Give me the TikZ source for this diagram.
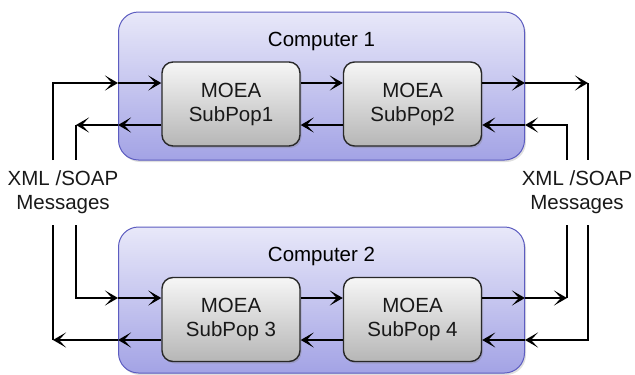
\documentclass[tikz,border=0pt]{standalone}
\usepackage{fontspec}
\setmainfont{Liberation Sans}
\usetikzlibrary{arrows.meta,shadows}

\definecolor{hostTop}{RGB}{232,232,249}
\definecolor{hostBot}{RGB}{163,163,229}
\definecolor{hostLine}{RGB}{92,92,192}
\definecolor{popTop}{RGB}{246,246,246}
\definecolor{popBot}{RGB}{182,182,182}
\definecolor{popLine}{RGB}{40,40,40}

\begin{document}
\begin{tikzpicture}[x=1pt,y=1pt,
  font=\fontsize{20.5}{24}\selectfont,
  host/.style={draw=hostLine, line width=1pt, rounded corners=20pt,
    top color=hostTop, bottom color=hostBot, minimum width=406pt,
    drop shadow={opacity=0.25, shadow xshift=1.5pt, shadow yshift=-2pt}},
  subpop/.style={draw=popLine, line width=1.4pt, rounded corners=11pt,
    top color=popTop, bottom color=popBot, minimum width=138pt,
    minimum height=84pt, align=center, text=black!90,
    drop shadow={opacity=0.3, shadow xshift=1.5pt, shadow yshift=-2pt}},
  msg/.style={align=center, text=black!90},
  link/.style={line width=2.5pt, -{Stealth[length=13pt,width=15pt,inset=7pt]}},
  wire/.style={line width=2.5pt}]
\useasboundingbox (0,0) rectangle (635,-375);

% the two hosts
\node[host, minimum height=148pt] (comp1) at (321.5,-86) {};
\node[anchor=north] (comp1lbl) at ([yshift=-17pt]comp1.north) {Computer 1};
\node[host, minimum height=146pt] (comp2) at (321.5,-300) {};
\node[anchor=north] (comp2lbl) at ([yshift=-17pt]comp2.north) {Computer 2};

% sub-populations
\node[subpop] (sub1) at (231,-104) {MOEA\\SubPop1};
\node[subpop] (sub2) at (412.5,-104) {MOEA\\SubPop2};
\node[subpop] (sub3) at (231,-319.5) {MOEA\\SubPop 3};
\node[subpop] (sub4) at (412.5,-319.5) {MOEA\\SubPop 4};

% message labels
\node[msg] (msgL) at (63,-192) {XML /SOAP\\Messages};
\node[msg] (msgR) at (577,-192) {XML /SOAP\\Messages};

% arrow levels and free ends of the wires
\coordinate (lvA) at (0,-83);
\coordinate (lvB) at (0,-125);
\coordinate (lvC) at (0,-298);
\coordinate (lvD) at (0,-340);
\coordinate (wL1) at (53,-160);
\coordinate (wL2) at (76,-160);
\coordinate (wL3) at (76,-225);
\coordinate (wL4) at (53,-225);
\coordinate (wR1) at (588,-160);
\coordinate (wR2) at (567,-160);
\coordinate (wR3) at (567,-225);
\coordinate (wR4) at (588,-225);

% computer 1, left to right
\draw[link] (wL1) |- (comp1.west |- lvA);
\draw[link] (comp1.west |- lvA) -- (sub1.west |- lvA);
\draw[link] (sub1.east |- lvA) -- (sub2.west |- lvA);
\draw[link] (sub2.east |- lvA) -- (comp1.east |- lvA);
\draw[link] (comp1.east |- lvA) -- (wR1 |- lvA);
\draw[wire] (wR1 |- lvA) -- (wR1);

% computer 1, right to left
\draw[link] (wR2) |- (comp1.east |- lvB);
\draw[link] (comp1.east |- lvB) -- (sub2.east |- lvB);
\draw[link] (sub2.west |- lvB) -- (sub1.east |- lvB);
\draw[link] (sub1.west |- lvB) -- (comp1.west |- lvB);
\draw[link] (comp1.west |- lvB) -- (wL2 |- lvB);
\draw[wire] (wL2 |- lvB) -- (wL2);

% computer 2, left to right
\draw[link] (wL3) |- (comp2.west |- lvC);
\draw[link] (comp2.west |- lvC) -- (sub3.west |- lvC);
\draw[link] (sub3.east |- lvC) -- (sub4.west |- lvC);
\draw[link] (sub4.east |- lvC) -- (comp2.east |- lvC);
\draw[link] (comp2.east |- lvC) -- (wR3 |- lvC);
\draw[wire] (wR3 |- lvC) -- (wR3);

% computer 2, right to left
\draw[link] (wR4) |- (comp2.east |- lvD);
\draw[link] (comp2.east |- lvD) -- (sub4.east |- lvD);
\draw[link] (sub4.west |- lvD) -- (sub3.east |- lvD);
\draw[link] (sub3.west |- lvD) -- (comp2.west |- lvD);
\draw[link] (comp2.west |- lvD) -- (wL4 |- lvD);
\draw[wire] (wL4 |- lvD) -- (wL4);
\end{tikzpicture}
\end{document}
